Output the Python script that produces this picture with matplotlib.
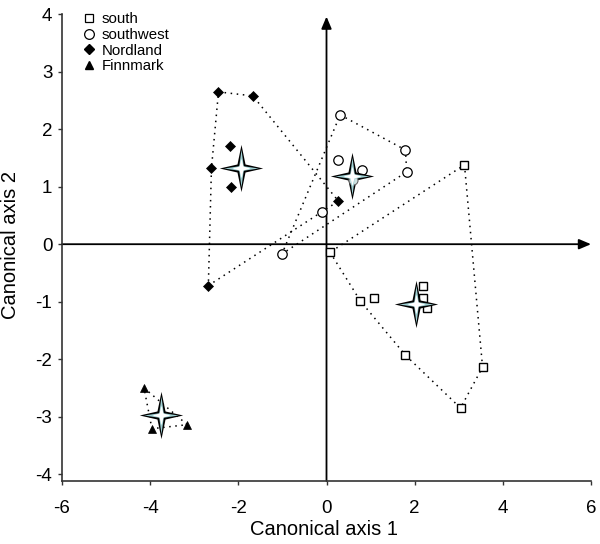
import matplotlib
matplotlib.use('Agg')
import matplotlib.pyplot as plt
from matplotlib.path import Path
from matplotlib.lines import Line2D

# ---- data ----
south_x = [0.08, 0.77, 1.07, 1.79, 3.04, 3.54, 3.13, 2.18, 2.20, 2.29]
south_y = [-0.14, -0.99, -0.93, -1.93, -2.85, -2.14, 1.38, -0.72, -0.93, -1.11]
south_hull = [0, 1, 3, 4, 5, 6, 0]

southwest_x = [0.31, 1.79, 1.82, -1.01, 0.27, 0.80, -0.10]
southwest_y = [2.25, 1.64, 1.26, -0.17, 1.47, 1.29, 0.56]
southwest_hull = [0, 1, 2, 3, 0]
southwest_hidden_x = [0.59]
southwest_hidden_y = [1.12]

nordland_x = [-2.45, -1.67, 0.27, -2.68, -2.61, -2.19, -2.16]
nordland_y = [2.65, 2.58, 0.75, -0.72, 1.32, 1.71, 1.00]
nordland_hull = [0, 1, 2, 3, 4, 0]

finnmark_x = [-4.14, -3.16, -3.96]
finnmark_y = [-2.50, -3.14, -3.21]
finnmark_hull = [0, 1, 2, 0]

centroid_x = [2.04, 0.58, -1.94, -3.76]
centroid_y = [-1.04, 1.19, 1.32, -2.97]

group_labels = ['south', 'southwest', 'Nordland', 'Finnmark']
x_ticks = [-6, -4, -2, 0, 2, 4, 6]
y_ticks = [-4, -3, -2, -1, 0, 1, 2, 3, 4]

plt.rcParams['font.family'] = ['Liberation Sans', 'DejaVu Sans']
plt.rcParams['axes.unicode_minus'] = False

fig = plt.figure(figsize=(6.0, 5.44), dpi=100)
ax = fig.add_axes([62/600, 63/544, 529/600, 466.7/544])
ax.set_xlim(-6, 6)
ax.set_ylim(-4.12, 4.0)
for s in ['top', 'right']:
    ax.spines[s].set_visible(False)
for s in ['left', 'bottom']:
    ax.spines[s].set_color('#333333')
    ax.spines[s].set_linewidth(1.2)
ax.set_xticks(x_ticks)
ax.set_yticks(y_ticks)
ax.tick_params(axis='both', direction='out', length=3, width=1, color='#333333',
               labelsize=13.5)
ax.tick_params(axis='x', pad=11)
ax.tick_params(axis='y', pad=4)

# central axes with arrows
arrow = dict(arrowstyle='-|>,head_length=0.4,head_width=0.17', color='black',
             lw=1.3, mutation_scale=18, shrinkA=0, shrinkB=0)
ax.annotate('', xy=(6.0, 0), xytext=(-6, 0), arrowprops=arrow, zorder=2)
ax.annotate('', xy=(0, 3.96), xytext=(0, -4.12), arrowprops=arrow, zorder=2)

# hulls
dot = dict(color='black', lw=1.1, linestyle=(0, (1, 3.0)), zorder=3)
for xs, ys, hull in [(south_x, south_y, south_hull),
                     (southwest_x, southwest_y, southwest_hull),
                     (nordland_x, nordland_y, nordland_hull),
                     (finnmark_x, finnmark_y, finnmark_hull)]:
    ax.plot([xs[i] for i in hull], [ys[i] for i in hull], **dot)

# points
ax.plot(south_x, south_y, ls='none', marker='s', ms=5.2, mfc='white', mec='black',
        mew=1.0, zorder=4)
ax.plot(southwest_x, southwest_y, ls='none', marker='o', ms=6.8, mfc='white',
        mec='black', mew=0.9, zorder=4)
ax.plot(nordland_x, nordland_y, ls='none', marker='D', ms=4.8, mfc='black',
        mec='black', mew=0.5, zorder=4)
ax.plot(finnmark_x, finnmark_y, ls='none', marker='^', ms=5.5, mfc='black',
        mec='black', mew=0.5, zorder=4)

# star markers (centroids)
def star(w, h, c):
    verts = [(0, h), (c, c), (w, 0), (c, -c), (0, -h), (-c, -c), (-w, 0),
             (-c, c), (0, h)]
    codes = [Path.MOVETO] + [Path.LINETO] * 7 + [Path.CLOSEPOLY]
    return Path(verts, codes)

ax.plot(centroid_x, centroid_y, ls='none', marker=star(0.92, 1.0, 0.17), ms=34,
        mfc='black', mew=0, zorder=5)
ax.plot(southwest_hidden_x, southwest_hidden_y, ls='none', marker='o', ms=6.5,
        mfc='#cfe3e3', mec='#666666', mew=0.8, zorder=5.5)
ax.plot(centroid_x, centroid_y, ls='none', marker=star(0.92, 1.0, 0.12), ms=27,
        mfc='#9fd0d3', mew=0, zorder=6)
ax.plot(centroid_x, centroid_y, ls='none', marker=star(0.92, 1.0, 0.2), ms=14,
        mfc='white', mew=0, zorder=7)

# legend
handles = [
    Line2D([], [], ls='none', marker='s', ms=5.5, mfc='white', mec='black', mew=0.9),
    Line2D([], [], ls='none', marker='o', ms=7, mfc='white', mec='black', mew=0.9),
    Line2D([], [], ls='none', marker='D', ms=5, mfc='black', mec='black'),
    Line2D([], [], ls='none', marker='^', ms=6, mfc='black', mec='black'),
]
ax.legend(handles, group_labels, loc='upper left', bbox_to_anchor=(0.039, 1.005),
          frameon=False, fontsize=10.8, handlelength=0.8, handletextpad=0.45,
          labelspacing=0.12, borderpad=0, borderaxespad=0)

fig.text(324/600, 1 - 535/544, 'Canonical axis 1', ha='center', va='baseline',
         fontsize=14.5)
fig.text(11/600, 1 - 245/544, 'Canonical axis 2', ha='center', va='center',
         rotation=90, fontsize=14.5)

fig.savefig('out.png', dpi=100)
